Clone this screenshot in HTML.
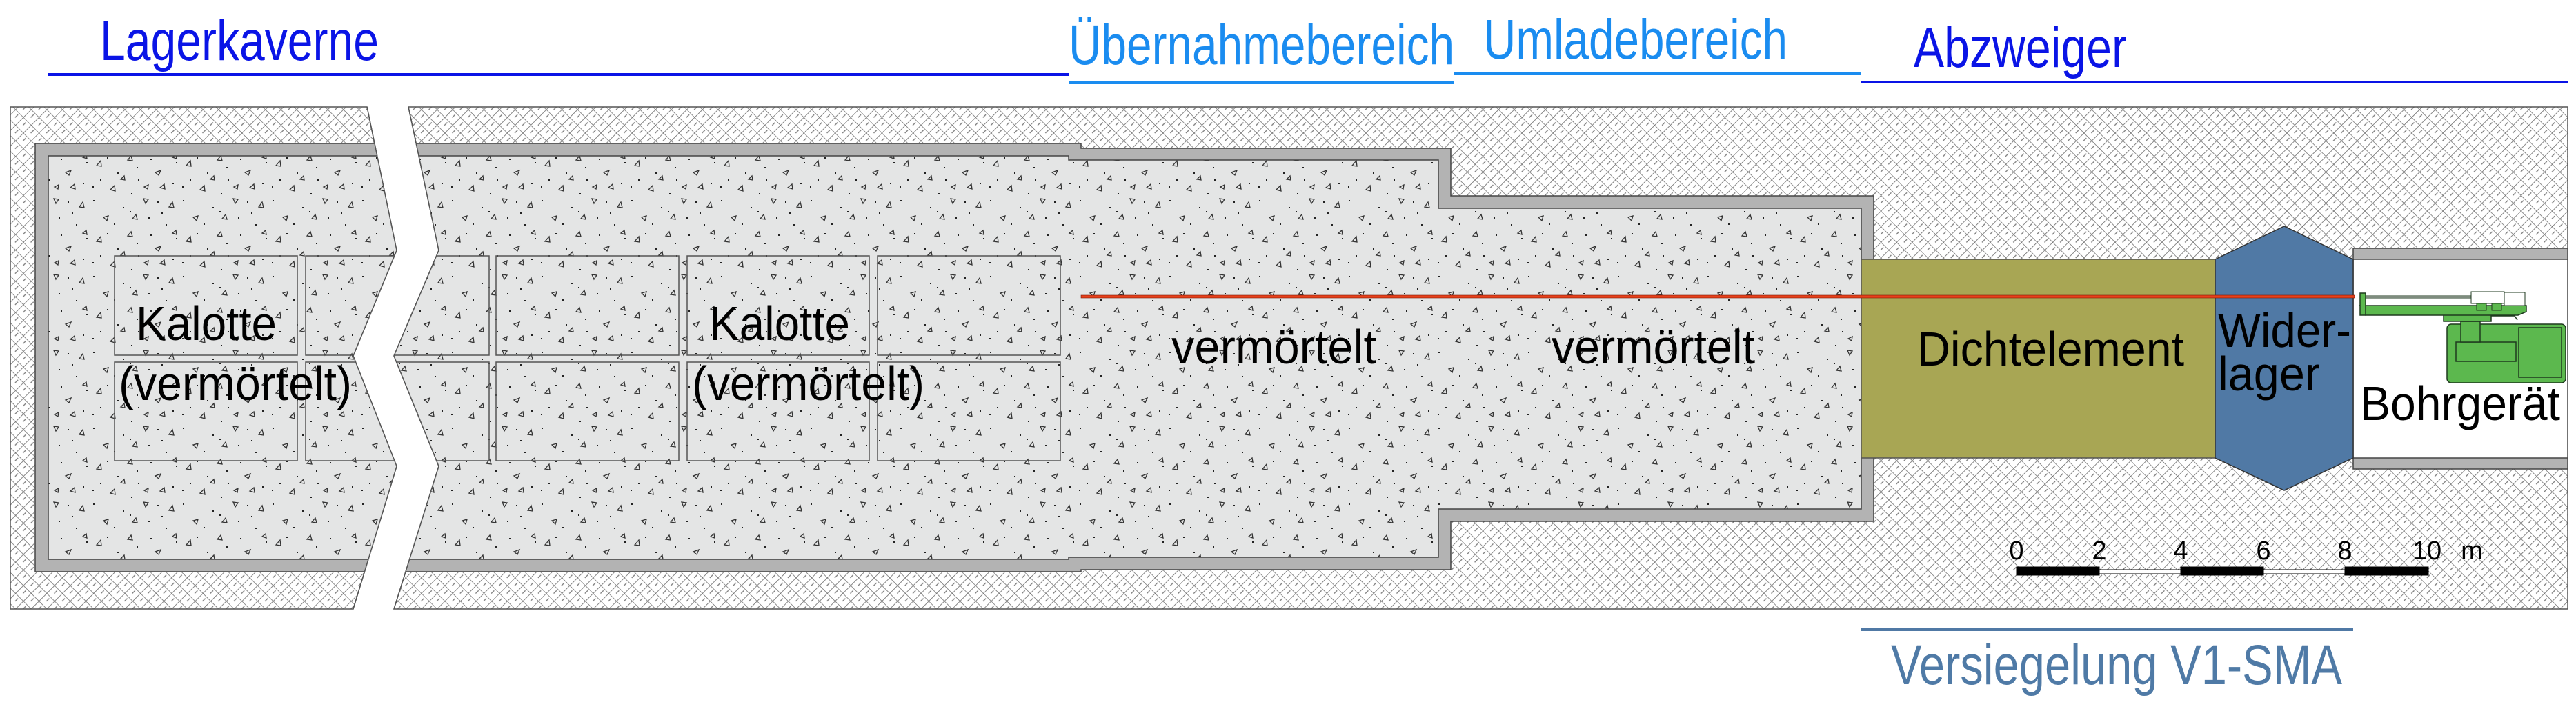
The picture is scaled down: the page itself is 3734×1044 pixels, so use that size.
<!DOCTYPE html>
<html><head><meta charset="utf-8"><style>html,body{margin:0;padding:0;background:#fff}svg{display:block}</style></head>
<body>
<svg xmlns="http://www.w3.org/2000/svg" width="3734" height="1044" viewBox="0 0 3734 1044">
<defs>
<pattern id="rock" width="16" height="16" patternUnits="userSpaceOnUse" patternTransform="rotate(45)">
<rect width="16" height="16" fill="#fff"/>
<path d="M0 0V16M0 0H16" stroke="#6a6a6a" stroke-width="1.6"/>
<path d="M8 3V9" stroke="#7a7a7a" stroke-width="1.3"/>
</pattern>
<pattern id="conc" width="130" height="110" patternUnits="userSpaceOnUse">
<rect width="130" height="110" fill="#e4e5e5"/>
<g fill="none" stroke="#333" stroke-width="1.3">
<path d="M10 20l6-7 1 8z"/><path d="M55 12l5-6 2 7z"/><path d="M95 30l8-3-3 7z"/>
<path d="M30 55l6-6 1 8z"/><path d="M78 68l7 1-4 6z"/><path d="M115 80l5-7 2 8z"/>
<path d="M20 95l7-2-2 7z"/><path d="M62 97l5-6 2 7z"/><path d="M102 52l6-5 1 7z"/>
<path d="M45 40l5-5 1 6z"/><path d="M120 8l5-4 1 6z"/><path d="M85 48l-6 3 5 3z"/>
</g>
<g fill="#222">
<rect x="40" y="30" width="2" height="2"/><rect x="70" y="40" width="2" height="2"/><rect x="5" y="70" width="2" height="2"/>
<rect x="88" y="10" width="2" height="2"/><rect x="120" y="45" width="2" height="2"/><rect x="48" y="80" width="2" height="2"/>
<rect x="85" y="95" width="2" height="2"/><rect x="15" y="40" width="2" height="2"/><rect x="110" y="105" width="2" height="2"/>
<rect x="60" y="60" width="2" height="2"/><rect x="125" y="15" width="2" height="2"/><rect x="35" y="104" width="2" height="2"/>
<rect x="98" y="72" width="2" height="2"/><rect x="25" y="8" width="2" height="2"/><rect x="68" y="22" width="2" height="2"/>
<rect x="4" y="50" width="2" height="2"/><rect x="104" y="88" width="2" height="2"/><rect x="58" y="86" width="2" height="2"/>
</g>
</pattern>
<clipPath id="cl"><path d="M15 155H532L575 363L512 516L575 676L512 883H15Z"/></clipPath>
<clipPath id="cr"><path d="M592 155H3722V883H571L636 676L571 516L636 363Z"/></clipPath>
</defs>

<path d="M15 155H532L575 363L512 516L575 676L512 883H15Z" fill="url(#rock)" stroke="#555" stroke-width="1.5"/>
<g clip-path="url(#cl)">
<rect x="51" y="208" width="600" height="621" fill="#b3b3b3" stroke="#444" stroke-width="1.5"/>
<rect x="70" y="226" width="600" height="585" fill="url(#conc)" stroke="#444" stroke-width="1.5"/>
<g fill="none" stroke="#555" stroke-width="1.5">
<rect x="166" y="371" width="265" height="144"/><rect x="443" y="371" width="200" height="144"/>
<rect x="166" y="525" width="265" height="143"/><rect x="443" y="525" width="200" height="143"/>
</g>
</g>
<path d="M532 155L575 363L512 516L575 676L512 883" fill="none" stroke="#555" stroke-width="1.5"/>

<path d="M592 155H3722V883H571L636 676L571 516L636 363Z" fill="url(#rock)" stroke="#555" stroke-width="1.5"/>
<g clip-path="url(#cr)">
<path d="M540 208H1567V215H2103V284H2716V756H2103V826H1567V829H540Z" fill="#b3b3b3" stroke="#444" stroke-width="1.5"/>
<path d="M540 226H1549V232H2085V302H2698V738H2085V808H1549V811H540Z" fill="url(#conc)" stroke="#444" stroke-width="1.5"/>
<g fill="none" stroke="#555" stroke-width="1.5">
<rect x="500" y="371" width="209" height="144"/><rect x="719" y="371" width="265" height="144"/><rect x="996" y="371" width="264" height="144"/><rect x="1272" y="371" width="265" height="144"/>
<rect x="500" y="525" width="209" height="143"/><rect x="719" y="525" width="265" height="143"/><rect x="996" y="525" width="264" height="143"/><rect x="1272" y="525" width="265" height="143"/>
</g>
</g>
<path d="M592 155L636 363L571 516L636 676L571 883" fill="none" stroke="#555" stroke-width="1.5"/>

<rect x="3411" y="360" width="311" height="320" fill="#b3b3b3" stroke="#444" stroke-width="1.5"/>
<rect x="3411" y="376" width="311" height="288" fill="#fff" stroke="#444" stroke-width="1.5"/>

<rect x="2698" y="376" width="513" height="288" fill="#a8a654" stroke="#555" stroke-width="1.5"/>
<path d="M3311 328L3411 376V664L3311 711L3211 664V376Z" fill="#5079a5" stroke="#333" stroke-width="1.5"/>

<rect x="1567" y="428" width="1846" height="4" fill="#e8401a" stroke="#7a1a08" stroke-width="0.6"/>

<g stroke="#1f3a1f" stroke-width="1.5">
<rect x="3547" y="470" width="172" height="85" rx="6" fill="#5cb84e"/>
<rect x="3651" y="475" width="62" height="72" fill="#5cb84e"/>
<rect x="3560" y="496" width="87" height="28" fill="#5cb84e"/>
<rect x="3567" y="466" width="28" height="30" fill="#5cb84e"/>
<rect x="3542" y="455" width="69" height="11" fill="#5cb84e"/>
<path d="M3611 458H3645L3649 464" fill="none"/>
<path d="M3421 443H3662V452L3650 457H3429Z" fill="#5cb84e"/>
<rect x="3421" y="425" width="8" height="32" fill="#5cb84e"/>
<rect x="3429" y="429" width="158" height="3" fill="#ddd" stroke-width="1"/>
<rect x="3582" y="423" width="48" height="17" fill="#fff" stroke-width="1"/>
<rect x="3630" y="424" width="30" height="19" fill="#fff" stroke-width="1"/>
<rect x="3590" y="440" width="14" height="10" fill="#5cb84e" stroke-width="1"/>
<rect x="3612" y="440" width="14" height="10" fill="#5cb84e" stroke-width="1"/>
</g>

<g stroke="#000" stroke-width="1">
<rect x="2923" y="822" width="120" height="12" fill="#000"/>
<rect x="3043" y="826" width="118" height="6" fill="#fff"/>
<rect x="3161" y="822" width="120" height="12" fill="#000"/>
<rect x="3281" y="826" width="118" height="6" fill="#fff"/>
<rect x="3399" y="822" width="121" height="12" fill="#000"/>
</g>
<g font-family="Liberation Sans, Arial, sans-serif" font-size="38" fill="#000" text-anchor="middle">
<text x="2923" y="811">0</text><text x="3043" y="811">2</text><text x="3161" y="811">4</text><text x="3281" y="811">6</text><text x="3399" y="811">8</text><text x="3518" y="811">10</text><text x="3583" y="811">m</text>
</g>

<rect x="69" y="106" width="1480" height="4" fill="#0a14e6"/>
<rect x="1549" y="118" width="559" height="4" fill="#1a8cf0"/>
<rect x="2108" y="105" width="590" height="4" fill="#1a8cf0"/>
<rect x="2698" y="117" width="1024" height="4" fill="#0a14e6"/>
<rect x="2698" y="911" width="713" height="4" fill="#5079a5"/>

<g font-family="Liberation Sans, Arial, sans-serif">
<text x="145" y="87" font-size="82" fill="#0a14e6" textLength="404" lengthAdjust="spacingAndGlyphs">Lagerkaverne</text>
<text x="1549" y="93" font-size="82" fill="#1a8cf0" textLength="559" lengthAdjust="spacingAndGlyphs">Übernahmebereich</text>
<text x="2150" y="85" font-size="82" fill="#1a8cf0" textLength="441" lengthAdjust="spacingAndGlyphs">Umladebereich</text>
<text x="2774" y="97" font-size="82" fill="#0a14e6" textLength="309" lengthAdjust="spacingAndGlyphs">Abzweiger</text>
<text x="2741" y="992" font-size="82" fill="#4f7aa6" textLength="654" lengthAdjust="spacingAndGlyphs">Versiegelung V1-SMA</text>
<g font-size="70" fill="#000">
<text x="197" y="493" textLength="204" lengthAdjust="spacingAndGlyphs">Kalotte</text>
<text x="172" y="580" textLength="338" lengthAdjust="spacingAndGlyphs">(vermörtelt)</text>
<text x="1028" y="493" textLength="204" lengthAdjust="spacingAndGlyphs">Kalotte</text>
<text x="1003" y="580" textLength="337" lengthAdjust="spacingAndGlyphs">(vermörtelt)</text>
<text x="1698" y="527" textLength="297" lengthAdjust="spacingAndGlyphs">vermörtelt</text>
<text x="2249" y="527" textLength="295" lengthAdjust="spacingAndGlyphs">vermörtelt</text>
<text x="2779" y="530" textLength="387" lengthAdjust="spacingAndGlyphs">Dichtelement</text>
<text x="3215" y="503" textLength="193" lengthAdjust="spacingAndGlyphs">Wider-</text>
<text x="3215" y="566" textLength="148" lengthAdjust="spacingAndGlyphs">lager</text>
<text x="3421" y="609" textLength="290" lengthAdjust="spacingAndGlyphs">Bohrgerät</text>
</g>
</g>
</svg>
</body></html>
